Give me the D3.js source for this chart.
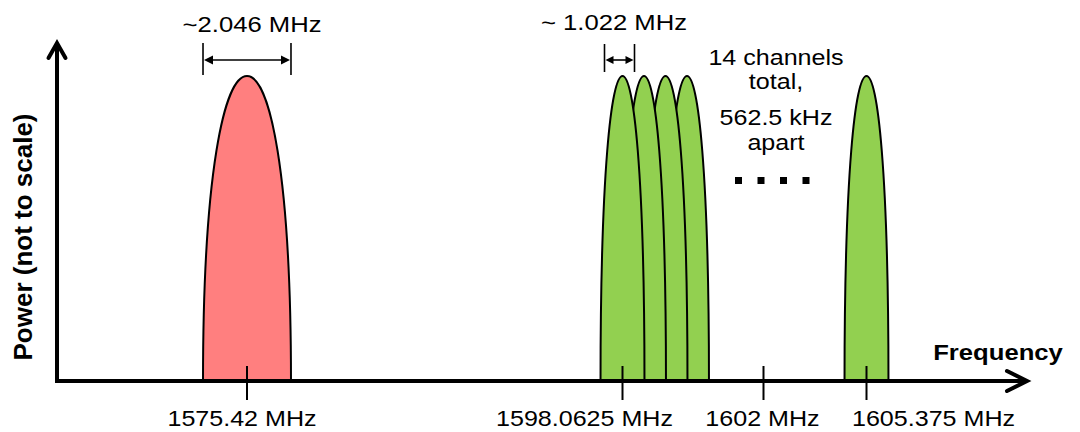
<!DOCTYPE html>
<html>
<head>
<meta charset="utf-8">
<script src="https://cdn.jsdelivr.net/npm/d3@7"></script>
<style>
  body { margin: 0; background: #fff; }
  svg { display: block; }
  text { font-family: "Liberation Sans", Arial, sans-serif; fill: #000; }
</style>
</head>
<body>
<div id="chart"></div>
<script>
// signal data (MHz), power is relative only (not to scale)
var gpsCenters = [1575.42];
var gpsWidth = 2.046;
var glonassChannels = [1598.0625, 1598.625, 1599.1875, 1599.75, 1605.375];
var glonassWidth = 1.022;
var lobePower = 1;
var tickValues = [1575.42, 1598.0625, 1602, 1605.375];
var tickLabels = ["1575.42 MHz", "1598.0625 MHz", "1602 MHz", "1605.375 MHz"];
var noteLines = ["14 channels", "total,", "562.5 kHz", "apart"];

var W = 1080, H = 432;
var axisY = 381, axisX = 57;
var sx = 1.14; // the source picture is stretched horizontally

var svg = d3.select("#chart").append("svg").attr("width", W).attr("height", H);

// frequency axis is not to scale: piecewise linear
var x = d3.scaleLinear()
  .domain([1575.42, 1598.0625, 1599.75, 1602, 1605.375])
  .range([247, 622.5, 687, 763.5, 866.5]);
var bw = d3.scaleLinear().domain([0, 1]).range([0, 43]); // lobe width in px per MHz
var y = d3.scaleLinear().domain([0, 1]).range([axisY, 76]);

function lobe(f, width) {
  var c = x(f), w = bw(width) / 2, y0 = y(0), y1 = y(lobePower);
  var k = y0 - (y0 - y1) * 0.68;
  return "M" + (c - w) + "," + y0 +
    "C" + (c - w) + "," + k + " " + (c - 0.52 * w) + "," + y1 + " " + c + "," + y1 +
    "C" + (c + 0.52 * w) + "," + y1 + " " + (c + w) + "," + k + " " + (c + w) + "," + y0 + "Z";
}

function label(g, px, py, str, size, weight) {
  return g.append("text")
    .attr("transform", "translate(" + px + "," + py + ") scale(" + sx + ",1)")
    .attr("text-anchor", "middle")
    .style("font-size", size + "px")
    .style("font-weight", weight || "normal")
    .text(str);
}

// lobes
svg.selectAll("path.gps").data(gpsCenters).enter().append("path")
  .attr("class", "gps")
  .attr("d", function(d) { return lobe(d, gpsWidth); })
  .style("fill", "#ff7f7f").style("stroke", "#000").style("stroke-width", 2);

// right to left so the lower channel sits on top
svg.selectAll("path.glo").data(glonassChannels.slice().reverse()).enter().append("path")
  .attr("class", "glo")
  .attr("d", function(d) { return lobe(d, glonassWidth); })
  .style("fill", "#92d050").style("stroke", "#000").style("stroke-width", 2);

// axes
svg.append("line").attr("x1", axisX - 2).attr("y1", axisY).attr("x2", 1026).attr("y2", axisY)
  .style("stroke", "#000").style("stroke-width", 4);
svg.append("line").attr("x1", axisX).attr("y1", axisY + 2).attr("x2", axisX).attr("y2", 44)
  .style("stroke", "#000").style("stroke-width", 4);
svg.append("path").attr("d", "M1007,371L1027,381L1007,391")
  .style("fill", "none").style("stroke", "#000").style("stroke-width", 4)
  .style("stroke-linecap", "round").style("stroke-linejoin", "miter");
svg.append("path").attr("d", "M" + (axisX - 8.5) + ",58L" + axisX + ",43L" + (axisX + 8.5) + ",58")
  .style("fill", "none").style("stroke", "#000").style("stroke-width", 4)
  .style("stroke-linecap", "round").style("stroke-linejoin", "miter");

// ticks and labels
var labelDx = [-5, -38, -1, 67];
svg.selectAll("line.tick").data(tickValues).enter().append("line")
  .attr("class", "tick")
  .attr("x1", function(d) { return x(d); }).attr("x2", function(d) { return x(d); })
  .attr("y1", 366).attr("y2", 400)
  .style("stroke", "#000").style("stroke-width", 2);
tickValues.forEach(function(d, i) {
  label(svg, x(d) + labelDx[i], 426, tickLabels[i], 22);
});

label(svg, 998, 360, "Frequency", 22.5, "bold");

svg.append("text")
  .attr("transform", "translate(32,237) rotate(-90)")
  .attr("text-anchor", "middle")
  .style("font-size", "26px").style("font-weight", "bold")
  .text("Power (not to scale)");

// bandwidth brackets
function bracket(x0, x1, top, bottom, ay, head) {
  var g = svg.append("g");
  [x0, x1].forEach(function(v) {
    g.append("line").attr("x1", v).attr("x2", v).attr("y1", top).attr("y2", bottom)
      .style("stroke", "#000").style("stroke-width", 1.6);
  });
  g.append("line").attr("x1", x0 + head).attr("x2", x1 - head).attr("y1", ay).attr("y2", ay)
    .style("stroke", "#000").style("stroke-width", 1.6);
  g.append("path").attr("d", "M" + (x0 + 1) + "," + ay + "l" + head + "," + (-head / 2) + "v" + head + "Z");
  g.append("path").attr("d", "M" + (x1 - 1) + "," + ay + "l" + (-head) + "," + (-head / 2) + "v" + head + "Z");
}
var g0 = x(gpsCenters[0]), gw = bw(gpsWidth) / 2;
bracket(g0 - gw, g0 + gw, 43, 75, 60, 9);
label(svg, 252, 32, "~2.046 MHz", 22.5);

var c0 = x(glonassChannels[0]);
bracket(c0 - 18, c0 + 12, 44, 72, 60, 8);
label(svg, 614, 30, "~ 1.022 MHz", 22.5);

// channel note
var noteY = [65, 89, 125, 150];
noteLines.forEach(function(t, i) { label(svg, 776, noteY[i], t, 22); });

// omitted channels
svg.selectAll("rect.dot").data(d3.range(4)).enter().append("rect")
  .attr("class", "dot")
  .attr("x", function(i) { return 735 + i * 22.5; }).attr("y", 177)
  .attr("width", 7).attr("height", 7).style("fill", "#000");
</script>
</body>
</html>
